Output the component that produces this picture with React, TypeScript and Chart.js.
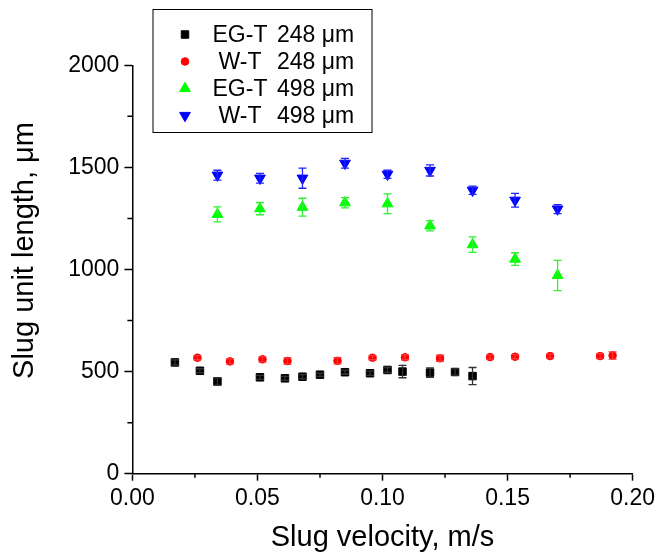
import React, { useEffect, useRef } from 'react';
import { Chart, registerables } from 'chart.js';

Chart.register(...registerables);

// ---- Data ----
const egT248X = [0.017, 0.027, 0.034, 0.051, 0.061, 0.068, 0.075, 0.085, 0.095, 0.102, 0.108, 0.119, 0.129, 0.136];
const egT248Y = [545, 504, 452, 472, 467, 475, 485, 497, 492, 508, 500, 495, 498, 478];
const egT248Err = [12, 10, 18, 10, 10, 10, 8, 10, 10, 12, 30, 23, 15, 42];

const wT248X = [0.026, 0.039, 0.052, 0.062, 0.082, 0.096, 0.109, 0.123, 0.143, 0.153, 0.167, 0.187, 0.192];
const wT248Y = [568, 550, 560, 552, 553, 568, 570, 565, 571, 573, 576, 576, 579];
const wT248Err = [10, 12, 12, 15, 15, 10, 12, 15, 10, 10, 10, 12, 18];

const egT498X = [0.034, 0.051, 0.068, 0.085, 0.102, 0.119, 0.136, 0.153, 0.170];
const egT498Y = [1270, 1298, 1305, 1327, 1322, 1214, 1122, 1051, 971];
const egT498Err = [37, 30, 44, 25, 48, 25, 38, 31, 74];

const wT498X = [0.034, 0.051, 0.068, 0.085, 0.102, 0.119, 0.136, 0.153, 0.170];
const wT498Y = [1462, 1447, 1447, 1520, 1466, 1485, 1388, 1339, 1296];
const wT498Err = [24, 24, 49, 24, 20, 27, 20, 34, 22];

const seriesLabels = ['EG-T 248 \u03bcm', 'W-T 248 \u03bcm', 'EG-T 498 \u03bcm', 'W-T 498 \u03bcm'];
const xMajorTicks = [0, 0.05, 0.1, 0.15, 0.2];
const xMinorTicks = [0.025, 0.075, 0.125, 0.175];
const yMajorTicks = [0, 500, 1000, 1500, 2000];
const yMinorTicks = [250, 750, 1250, 1750];

const FONT = "'Liberation Sans', Arial, Helvetica, sans-serif";

function pts(xs: number[], ys: number[]) {
  return xs.map((x, i) => ({ x, y: ys[i] }));
}

function drawMarker(ctx: CanvasRenderingContext2D, style: string, rot: number, x: number, y: number, r: number, color: string) {
  ctx.save();
  ctx.fillStyle = color;
  ctx.strokeStyle = color;
  ctx.lineWidth = 1;
  ctx.beginPath();
  if (style === 'rect') {
    const s = Math.SQRT1_2 * r;
    ctx.rect(x - s, y - s, 2 * s, 2 * s);
  } else if (style === 'circle') {
    ctx.arc(x, y, r, 0, Math.PI * 2);
  } else {
    const dir = rot === 180 ? -1 : 1;
    ctx.moveTo(x, y - dir * r);
    ctx.lineTo(x - r * Math.sqrt(3) / 2, y + dir * r / 2);
    ctx.lineTo(x + r * Math.sqrt(3) / 2, y + dir * r / 2);
    ctx.closePath();
  }
  ctx.fill();
  ctx.stroke();
  ctx.restore();
}

const errorBarPlugin = {
  id: 'errorBars',
  afterDatasetsDraw(chart: any) {
    const { ctx, scales } = chart;
    const xs = scales.x, ys = scales.y;
    chart.data.datasets.forEach((ds: any) => {
      const errs: number[] = ds.errors || [];
      ctx.save();
      ctx.strokeStyle = ds.errorColor || ds.borderColor;
      ctx.lineWidth = 1.3;
      ds.data.forEach((p: any, i: number) => {
        const e = errs[i];
        if (!e) return;
        const px = xs.getPixelForValue(p.x);
        const top = ys.getPixelForValue(p.y + e);
        const bot = ys.getPixelForValue(p.y - e);
        const cw = 4;
        ctx.beginPath();
        ctx.moveTo(px, top); ctx.lineTo(px, bot);
        ctx.moveTo(px - cw, top); ctx.lineTo(px + cw, top);
        ctx.moveTo(px - cw, bot); ctx.lineTo(px + cw, bot);
        ctx.stroke();
      });
      ctx.restore();
    });
  },
};

const minorTicksPlugin = {
  id: 'minorTicks',
  afterDraw(chart: any) {
    const { ctx, scales } = chart;
    const xs = scales.x, ys = scales.y;
    ctx.save();
    ctx.strokeStyle = '#000';
    ctx.lineWidth = 1.5;
    ctx.beginPath();
    xMinorTicks.forEach((v) => {
      const px = xs.getPixelForValue(v);
      ctx.moveTo(px, ys.bottom);
      ctx.lineTo(px, ys.bottom + 4);
    });
    yMinorTicks.forEach((v) => {
      const py = ys.getPixelForValue(v);
      ctx.moveTo(xs.left, py);
      ctx.lineTo(xs.left - 5, py);
    });
    ctx.stroke();
    ctx.restore();
  },
};

const legendPlugin = {
  id: 'boxLegend',
  afterDraw(chart: any) {
    const ctx: CanvasRenderingContext2D = chart.ctx;
    const left = 153, top = 9.5, w = 219, h = 123;
    ctx.save();
    ctx.strokeStyle = '#000';
    ctx.lineWidth = 1;
    ctx.strokeRect(left, top, w, h);
    ctx.font = `23px ${FONT}`;
    ctx.fillStyle = '#000';
    ctx.textBaseline = 'middle';
    chart.data.datasets.forEach((ds: any, i: number) => {
      const cy = 34.5 + i * 27;
      drawMarker(ctx, ds.pointStyle, ds.rotation || 0, 185, cy, ds.pointRadius, ds.backgroundColor);
      const label: string = ds.label;
      const sp = label.indexOf(' ');
      const first = label.slice(0, sp);
      const rest = label.slice(sp + 1);
      ctx.fillStyle = '#000';
      ctx.textAlign = 'center';
      ctx.fillText(first, 240, cy + 1);
      ctx.textAlign = 'left';
      ctx.fillText(rest, 277, cy + 1);
    });
    ctx.restore();
  },
};

export default function App() {
  const ref = useRef<HTMLCanvasElement>(null);
  useEffect(() => {
    document.body.style.margin = '0';
    const cv = ref.current;
    if (!cv) return;
    Chart.defaults.font.family = FONT;
    Chart.defaults.color = '#000';
    const chart = new Chart(cv, {
      type: 'scatter',
      data: {
        datasets: [
          { label: seriesLabels[0], data: pts(egT248X, egT248Y), errors: egT248Err, pointStyle: 'rect', pointRadius: 5.3, backgroundColor: '#000000', borderColor: '#000000', errorColor: '#333333', borderWidth: 1 } as any,
          { label: seriesLabels[1], data: pts(wT248X, wT248Y), errors: wT248Err, pointStyle: 'circle', pointRadius: 3.8, backgroundColor: '#ff0000', borderColor: '#ff0000', errorColor: '#ff3333', borderWidth: 1 } as any,
          { label: seriesLabels[2], data: pts(egT498X, egT498Y), errors: egT498Err, pointStyle: 'triangle', pointRadius: 6.2, backgroundColor: '#00ff00', borderColor: '#00ff00', errorColor: '#33ee33', borderWidth: 1 } as any,
          { label: seriesLabels[3], data: pts(wT498X, wT498Y), errors: wT498Err, pointStyle: 'triangle', rotation: 180, pointRadius: 6.2, backgroundColor: '#0000ff', borderColor: '#0000ff', errorColor: '#2222ff', borderWidth: 1 } as any,
        ],
      },
      options: {
        animation: false,
        responsive: false,
        events: [],
        layout: { padding: { top: 65.3, right: 25, left: 0, bottom: 0 } },
        plugins: { legend: { display: false }, tooltip: { enabled: false } },
        scales: {
          x: {
            type: 'linear',
            min: 0,
            max: 0.2,
            afterFit: (s: any) => { s.height = 81.3; },
            afterBuildTicks: (s: any) => { s.ticks = xMajorTicks.map((v) => ({ value: v })); },
            ticks: { font: { size: 23 }, color: '#000', padding: 4, callback: (v: any) => Number(v).toFixed(2), maxRotation: 0 },
            grid: { drawOnChartArea: false, drawTicks: true, tickLength: 7, tickWidth: 1.5, tickColor: '#000' },
            border: { display: true, color: '#000', width: 1.5 },
            title: { display: true, text: 'Slug velocity, m/s', font: { size: 29 }, color: '#000', padding: { top: 0, bottom: 0 } },
          },
          y: {
            type: 'linear',
            min: 0,
            max: 2000,
            afterFit: (s: any) => { s.width = 132.4; },
            afterBuildTicks: (s: any) => { s.ticks = yMajorTicks.map((v) => ({ value: v })); },
            ticks: { font: { size: 23 }, color: '#000', padding: 5, callback: (v: any) => String(v) },
            grid: { drawOnChartArea: false, drawTicks: true, tickLength: 8, tickWidth: 1.5, tickColor: '#000' },
            border: { display: true, color: '#000', width: 1.5 },
            title: { display: true, text: '    \u2009Slug unit length, \u03bcm', font: { size: 29 }, color: '#000', padding: { top: 8, bottom: 0 } },
          },
        },
      } as any,
      plugins: [errorBarPlugin, minorTicksPlugin, legendPlugin],
    });
    return () => chart.destroy();
  }, []);
  return (
    <div style={{ width: 659, height: 555 }}>
      <canvas ref={ref} width={659} height={555} style={{ display: 'block' }} />
    </div>
  );
}
